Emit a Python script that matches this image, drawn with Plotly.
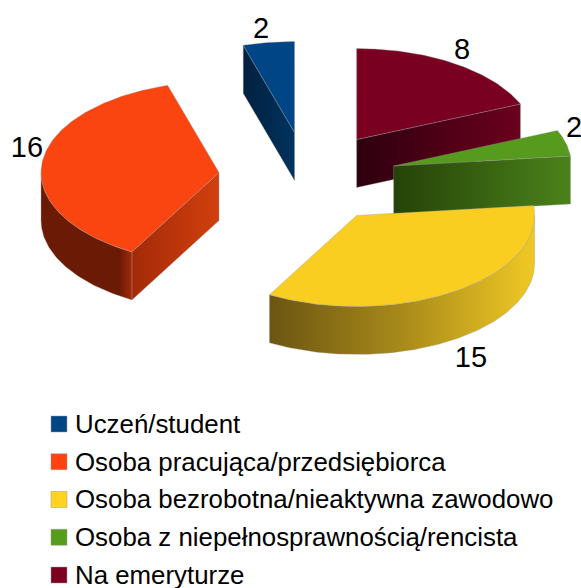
import numpy as np
import plotly.graph_objects as go

# Data
CATEGORIES = ["Uczeń/student", "Osoba pracująca/przedsiębiorca",
              "Osoba bezrobotna/nieaktywna zawodowo",
              "Osoba z niepełnosprawnością/rencista", "Na emeryturze"]
VALUES = [2, 16, 15, 2, 8]
COLORS = ["#004586", "#ff420e", "#ffd320", "#579d1c", "#7e0021"]
TOP_COLORS = ["#004586", "#fb4510", "#f9ce20", "#569b1d", "#7a0021"]
FACE_GRAD = [("#02203f", "#00335f"), ("#a32a08", "#d2400e"), None,
             ("#254208", "#4b821a"), ("#2e000f", "#6b001d")]
WALL_GRAD = [None,
             [[0, "#6a1a05"], [0.86, "#6a1a05"], [1, "#a32a08"]],
             [[0, "#6b5512"], [0.5, "#a88a1a"], [1, "#f0c824"]],
             None, None]
LABEL_X = [261, 27, 471, 574, 462]
LABEL_Y = [31, 150, 360, 130, 52]

# Layout constants of the projection, in pixels
W, H = 581, 588
CX, CY = 307.5, 177.5
A, B, DEPTH = 178.0, 91.0, 48.0
EXPLODE = 0.5
LEG_X, LEG_TEXT_X, LEG_Y0, LEG_DY, LEG_TEXT_DY = 59, 75, 424, 37.75, 2.5
FS_LABEL, FS_LEGEND = 29, 25.85
EDGE = "rgba(150,150,150,0.6)"

total = sum(VALUES)
ends = np.cumsum(VALUES) / total * 2 * np.pi
starts = np.concatenate([[0], ends[:-1]])


def arc(ax, ay, t1, t2):
    t = np.linspace(t1, t2, max(int(abs(t2 - t1) * 60), 2))
    return ax - A * np.sin(t), ay - B * np.cos(t)


def poly(x, y, color=None, grad=None):
    kw = dict(fillcolor=color) if grad is None else dict(
        fillgradient=dict(type="horizontal", colorscale=grad))
    return go.Scatter(x=list(x) + [x[0]], y=list(y) + [y[0]], mode="lines", fill="toself",
                      line=dict(width=0.6, color=EDGE), hoverinfo="skip", showlegend=False, **kw)


fig = go.Figure()
for i in [0, 4, 3, 2, 1]:
    t1, t2 = starts[i], ends[i]
    mid = (t1 + t2) / 2
    ax = CX - EXPLODE * A * np.sin(mid)
    ay = CY - EXPLODE * B * np.cos(mid)
    # visible cut face
    t_face = None
    if t2 <= np.pi or i == 1:
        t_face = t2
    elif t1 > np.pi:
        t_face = t1
    if t_face is not None and FACE_GRAD[i] is not None:
        ex, ey = arc(ax, ay, t_face, t_face)
        ex, ey = ex[0], ey[0]
        g = FACE_GRAD[i]
        fig.add_trace(poly([ax, ex, ex, ax], [ay, ey, ey + DEPTH, ay + DEPTH],
                           grad=[[0, g[0]], [1, g[1]]]))
    # visible outer wall (lower half of the ellipse)
    w1, w2 = max(t1, np.pi / 2), min(t2, 3 * np.pi / 2)
    if w2 > w1:
        ox, oy = arc(ax, ay, w1, w2)
        fig.add_trace(poly(np.r_[ox, ox[::-1]], np.r_[oy, oy[::-1] + DEPTH], grad=WALL_GRAD[i]))
    # top
    tx, ty = arc(ax, ay, t1, t2)
    fig.add_trace(poly(np.r_[ax, tx], np.r_[ay, ty], color=TOP_COLORS[i]))

# value labels
fig.add_trace(go.Scatter(x=LABEL_X, y=LABEL_Y, mode="text", text=[str(v) for v in VALUES],
                         textposition="middle center",
                         textfont=dict(family="Liberation Sans", size=FS_LABEL, color="#000000"),
                         hoverinfo="skip", showlegend=False))
# legend
leg_y = [LEG_Y0 + k * LEG_DY for k in range(len(CATEGORIES))]
fig.add_trace(go.Scatter(x=[LEG_X] * len(CATEGORIES), y=leg_y, mode="markers",
                         marker=dict(symbol="square", size=16, color=COLORS,
                                     line=dict(width=0.5, color="#999999")),
                         hoverinfo="skip", showlegend=False))
fig.add_trace(go.Scatter(x=[LEG_TEXT_X] * len(CATEGORIES), y=[v + LEG_TEXT_DY for v in leg_y],
                         mode="text", text=CATEGORIES, textposition="middle right",
                         textfont=dict(family="Liberation Sans", size=FS_LEGEND, color="#000000"),
                         hoverinfo="skip", showlegend=False))

fig.update_layout(width=W, height=H, margin=dict(l=0, r=0, t=0, b=0),
                  paper_bgcolor="white", plot_bgcolor="white",
                  xaxis=dict(range=[0, W], visible=False, fixedrange=True),
                  yaxis=dict(range=[H, 0], visible=False, fixedrange=True))
fig.write_html("out.html", config={"displayModeBar": False},
               post_script="document.body.style.margin='0';document.body.style.overflow='hidden';")
